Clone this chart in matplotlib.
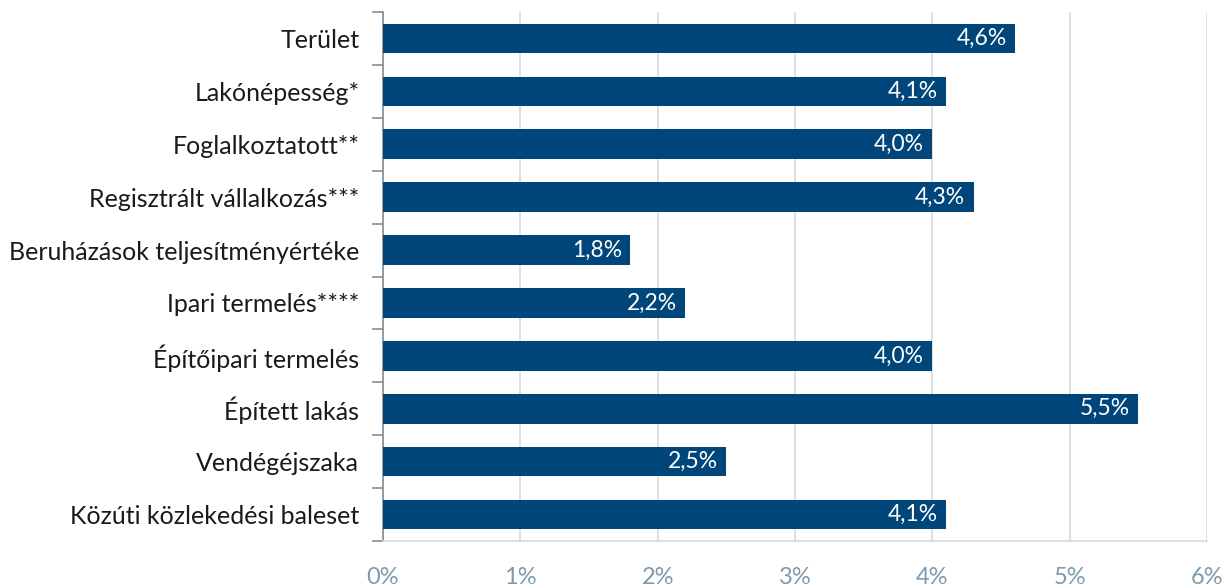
import matplotlib.pyplot as plt
from matplotlib.ticker import FixedLocator, NullFormatter

# Data
categories = ['Terület', 'Lakónépesség*', 'Foglalkoztatott**', 'Regisztrált vállalkozás***',
              'Beruházások teljesítményértéke', 'Ipari termelés****', 'Építőipari termelés',
              'Épített lakás', 'Vendégéjszaka', 'Közúti közlekedési baleset']
values = [4.6, 4.1, 4.0, 4.3, 1.8, 2.2, 4.0, 5.5, 2.5, 4.1]
xticks = [0, 1, 2, 3, 4, 5, 6]

plt.rcParams['font.family'] = ['Lato', 'DejaVu Sans']

fig = plt.figure(figsize=(12.26, 5.86), dpi=100)
ax = fig.add_axes([0.3124, 0.0768, 0.6721, 0.9027])

bar_color = '#00467A'
ypos = list(range(len(categories)))
bars = ax.barh(ypos, values, height=0.56, color=bar_color, zorder=3)

for y, v in zip(ypos, values):
    ax.text(v - 0.06, y, f'{v:.1f}%'.replace('.', ','), ha='right', va='center',
            color='white', fontsize=16.5, zorder=4)

ax.set_xlim(0, 6)
ax.set_ylim(len(categories) - 0.5, -0.5)
ax.set_xticks(xticks)
ax.set_xticklabels([f'{t}%' for t in xticks], color='#7F9AAA', fontsize=17)
ax.tick_params(axis='x', length=0, pad=19)

ax.set_yticks(ypos)
ax.set_yticklabels(categories, fontsize=18, color='#1A1A1A')
ax.tick_params(axis='y', which='major', length=0, pad=17)
ax.yaxis.set_minor_locator(FixedLocator([i - 0.5 for i in range(len(categories) + 1)]))
ax.yaxis.set_minor_formatter(NullFormatter())
ax.tick_params(axis='y', which='minor', length=8, width=1.2, color='#8C8C8C', direction='out')

ax.grid(axis='x', color='#D9D9D9', linewidth=1.2, zorder=0)
ax.set_axisbelow(True)
ax.spines['top'].set_visible(False)
ax.spines['right'].set_visible(False)
ax.spines['bottom'].set_color('#D9D9D9')
ax.spines['bottom'].set_linewidth(1.2)
ax.spines['left'].set_color('#8C8C8C')
ax.spines['left'].set_linewidth(1.2)

fig.savefig('out.png', dpi=100)
